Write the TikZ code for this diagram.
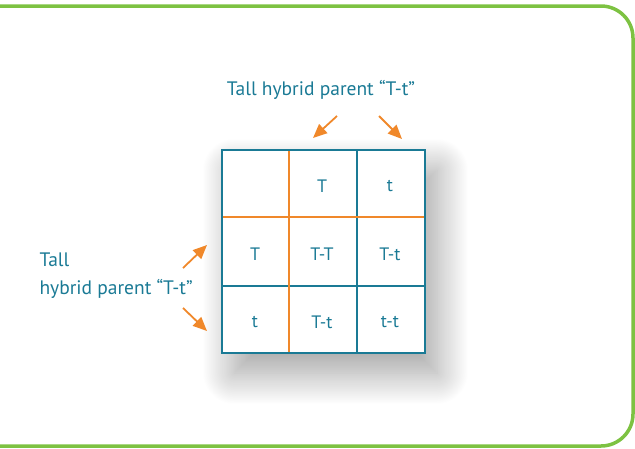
\documentclass[tikz,border=0pt]{standalone}
\usepackage{fontspec}
\setmainfont{PT Sans}
\usetikzlibrary{arrows.meta,shadows.blur}
\definecolor{teal}{HTML}{1A7A95}
\definecolor{orng}{HTML}{F0882A}
\definecolor{grn}{HTML}{7DC242}
\tikzset{
  lbl/.style={text=teal, font=\fontsize{19.5}{28}\selectfont},
  cell/.style={text=teal, font=\fontsize{18}{20}\selectfont},
  parr/.style={orng, line width=1.8pt, -{Triangle[length=14pt,width=12pt]}}
}
\begin{document}
\begin{tikzpicture}[x=1pt,y=-1pt]
            \useasboundingbox (0,0) rectangle (635,448);
            \draw [grn, line width=3.5pt, rounded corners=32pt] (-5,6) -- (633,6) -- (633,446) -- (-5,446);
            % punnett square
            \fill [white, blur shadow={shadow xshift=12pt, shadow yshift=-20pt, shadow blur radius=32pt, shadow blur steps=50, shadow opacity=38}] (222,150) rectangle (425,353);
            \draw [teal, line width=1.4pt] (357,150) -- (357,353);
            \draw [teal, line width=1.4pt] (222,286) -- (425,286);
            \draw [orng, line width=1.4pt] (289,150) -- (289,353);
            \draw [orng, line width=1.4pt] (222,217) -- (425,217);
            \draw [teal, line width=1.8pt] (222,150) rectangle (425,353);
            \node [cell] (pT) at (322,186) {T};
            \node [cell] (pt) at (390,186) {t};
            \node [cell] (mT) at (255,254) {T};
            \node [cell] (TT) at (322,254) {T-T};
            \node [cell] (Tt) at (390,254) {T-t};
            \node [cell] (mt) at (255,322) {t};
            \node [cell] (tT) at (322,322) {T-t};
            \node [cell] (tt) at (390,322) {t-t};
            % parents
            \node [lbl] (top) at (321,90) {Tall hybrid parent “T-t”};
            \node [lbl, align=left, anchor=west] (left) at (36,276) {Tall\\hybrid parent “T-t”};
            \coordinate (a1) at (313,138);
            \coordinate (a2) at (402,139);
            \coordinate (a3) at (207,245);
            \coordinate (a4) at (207,331);
            \draw [parr] (337,116) -- (a1);
            \draw [parr] (379,116) -- (a2);
            \draw [parr] (183,268) -- (a3);
            \draw [parr] (183,308) -- (a4);
\end{tikzpicture}
\end{document}
